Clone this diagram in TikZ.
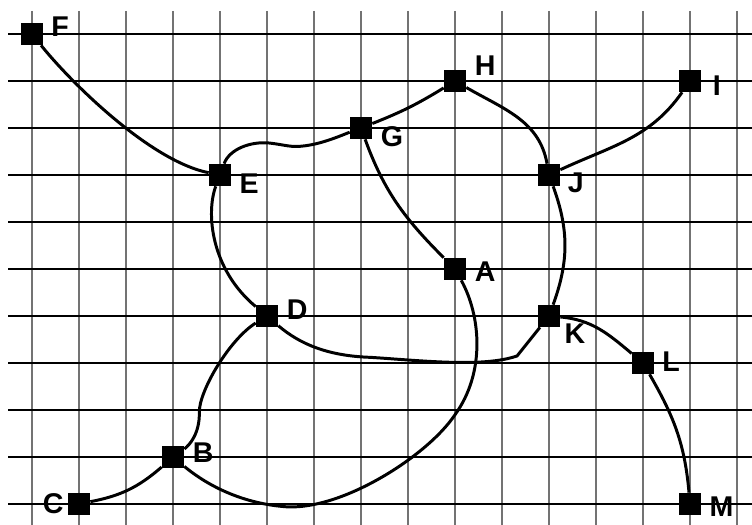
\documentclass[tikz,border=0pt]{standalone}
\usepackage{fontspec}
\setmainfont{Liberation Sans}
\usepackage{tikz}
\usetikzlibrary{calc}

\begin{document}
\begin{tikzpicture}[
    vtx/.style={rectangle, fill=black, inner sep=0pt, minimum size=0.468cm},
    lbl/.style={inner sep=0pt, font=\bfseries\fontsize{17.3}{20}\selectfont},
    edge/.style={line width=1.8pt, black},
    gridv/.style={line width=0.9pt, black!55},
    gridh/.style={line width=0.7pt, black}
  ]
  \useasboundingbox (-0.681,0.723) rectangle (15.319,-10.447);

  % Grid
  \foreach \i in {0,...,15}
    \draw[gridv] (\i,0.49) -- (\i,-10.447);
  \foreach \j in {0,...,10}
    \draw[gridh] (-0.51,-\j) -- (15.319,-\j);

  % Vertices
  \node[vtx] (F) at (0,0) {};
  \node[vtx] (H) at (9,-1) {};
  \node[vtx] (I) at (14,-1) {};
  \node[vtx] (G) at (7,-2) {};
  \node[vtx] (E) at (4,-3) {};
  \node[vtx] (J) at (11,-3) {};
  \node[vtx] (A) at (9,-5) {};
  \node[vtx] (D) at (5,-6) {};
  \node[vtx] (K) at (11,-6) {};
  \node[vtx] (L) at (13,-7) {};
  \node[vtx] (B) at (3,-9) {};
  \node[vtx] (C) at (1,-10) {};
  \node[vtx] (M) at (14,-10) {};

  % Labels
  \node[lbl] (lF) at ($(F)+(0.60,0.15)$) {F};
  \node[lbl] (lH) at ($(H)+(0.64,0.32)$) {H};
  \node[lbl] (lI) at ($(I)+(0.57,-0.09)$) {I};
  \node[lbl] (lG) at ($(G)+(0.66,-0.19)$) {G};
  \node[lbl] (lE) at ($(E)+(0.62,-0.18)$) {E};
  \node[lbl] (lJ) at ($(J)+(0.57,-0.17)$) {J};
  \node[lbl] (lA) at ($(A)+(0.64,-0.06)$) {A};
  \node[lbl] (lD) at ($(D)+(0.64,0.13)$) {D};
  \node[lbl] (lK) at ($(K)+(0.55,-0.38)$) {K};
  \node[lbl] (lL) at ($(L)+(0.60,0.02)$) {L};
  \node[lbl] (lB) at ($(B)+(0.64,0.09)$) {B};
  \node[lbl] (lC) at ($(C)+(-0.55,0)$) {C};
  \node[lbl] (lM) at ($(M)+(0.67,-0.05)$) {M};

  % Edges, upper part
  \draw[edge] (F) .. controls (0.8,-1.0) and (2.5,-2.7) .. (E);
  \draw[edge] (E) .. controls (4.2,-2.45) and (4.65,-2.28) .. (5.05,-2.32)
                  .. controls (5.4,-2.36) and (5.5,-2.42) .. (5.8,-2.38)
                  .. controls (6.2,-2.33) and (6.6,-2.15) .. (G);
  \draw[edge] (G) to[bend right=5] (H);
  \draw[edge] (H) to[out=-30,in=100] (J);
  \draw[edge] (I) to[out=-125,in=25] (J);
  \draw[edge] (J) to[out=-70,in=70] (K);
  \draw[edge] (G) to[out=-70,in=135] (A);
  \draw[edge] (E) .. controls (3.7,-3.8) and (3.8,-5.0) .. (D);

  % Edges, lower part
  \draw[edge] (D) .. controls (5.7,-6.6) and (6.3,-6.85) .. (7.2,-6.88)
                  .. controls (8.3,-6.95) and (9.6,-7.1) .. (10.32,-6.85) -- (K);
  \draw[edge] (B) .. controls (3.35,-8.75) and (3.57,-8.5) .. (3.56,-8.05)
                  .. controls (3.55,-7.6) and (4.2,-6.5) .. (D);
  \draw[edge] (A) .. controls (9.55,-6.0) and (9.65,-7.2) .. (9.0,-8.1)
                  .. controls (8.4,-9.0) and (6.5,-10.2) .. (5.3,-10.05)
                  .. controls (4.3,-9.95) and (3.6,-9.5) .. (B);
  \draw[edge] (C) to[bend right=15] (B);
  \draw[edge] (K) to[out=-5,in=140] (L);
  \draw[edge] (L) to[out=-60,in=95] (M);
\end{tikzpicture}
\end{document}
